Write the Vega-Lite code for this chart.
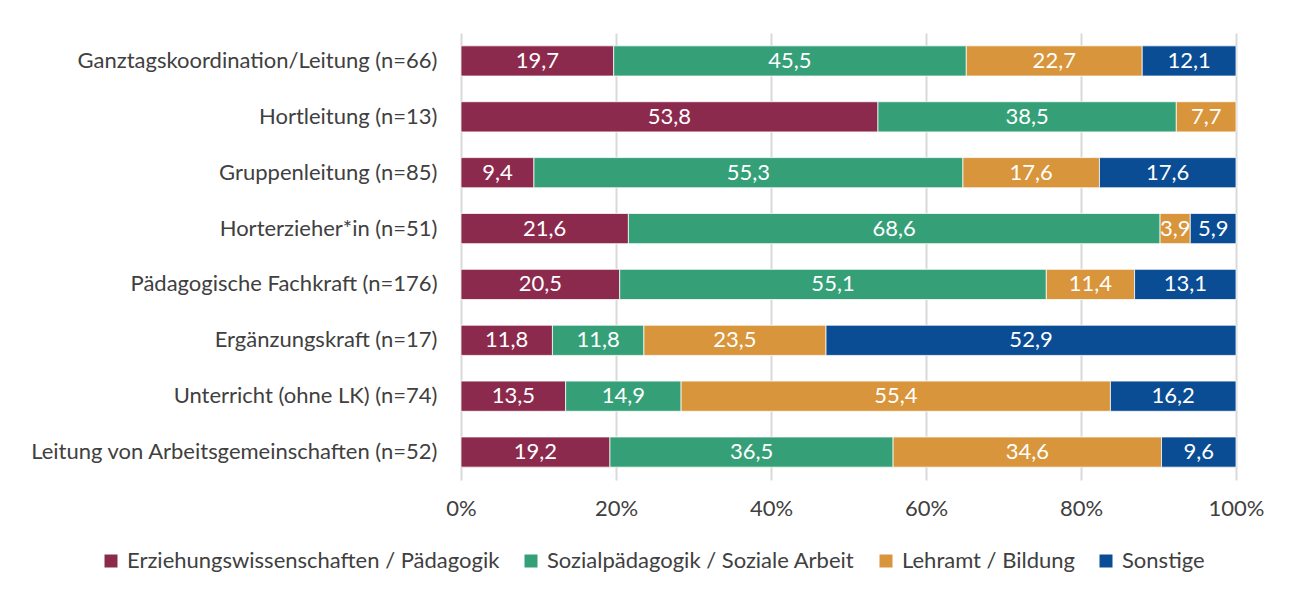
{
  "$schema": "https://vega.github.io/schema/vega-lite/v6.json",
  "width": 775,
  "height": 447,
  "autosize": {"type": "none"},
  "padding": {"left": 461, "top": 33, "right": 56, "bottom": 121},
  "background": "white",
  "config": {
    "view": {"stroke": null},
    "font": "Lato",
    "locale": {"number": {"decimal": ",", "thousands": ".", "grouping": [3], "currency": ["", " €"]}}
  },
  "data": {
    "values": [
      {"cat": "Ganztagskoordination/Leitung (n=66)", "group": "Erziehungswissenschaften / Pädagogik", "o": 1, "value": 19.7},
      {"cat": "Ganztagskoordination/Leitung (n=66)", "group": "Sozialpädagogik / Soziale Arbeit", "o": 2, "value": 45.5},
      {"cat": "Ganztagskoordination/Leitung (n=66)", "group": "Lehramt / Bildung", "o": 3, "value": 22.7},
      {"cat": "Ganztagskoordination/Leitung (n=66)", "group": "Sonstige", "o": 4, "value": 12.1},
      {"cat": "Hortleitung (n=13)", "group": "Erziehungswissenschaften / Pädagogik", "o": 1, "value": 53.8},
      {"cat": "Hortleitung (n=13)", "group": "Sozialpädagogik / Soziale Arbeit", "o": 2, "value": 38.5},
      {"cat": "Hortleitung (n=13)", "group": "Lehramt / Bildung", "o": 3, "value": 7.7},
      {"cat": "Gruppenleitung (n=85)", "group": "Erziehungswissenschaften / Pädagogik", "o": 1, "value": 9.4},
      {"cat": "Gruppenleitung (n=85)", "group": "Sozialpädagogik / Soziale Arbeit", "o": 2, "value": 55.3},
      {"cat": "Gruppenleitung (n=85)", "group": "Lehramt / Bildung", "o": 3, "value": 17.6},
      {"cat": "Gruppenleitung (n=85)", "group": "Sonstige", "o": 4, "value": 17.6},
      {"cat": "Horterzieher*in (n=51)", "group": "Erziehungswissenschaften / Pädagogik", "o": 1, "value": 21.6},
      {"cat": "Horterzieher*in (n=51)", "group": "Sozialpädagogik / Soziale Arbeit", "o": 2, "value": 68.6},
      {"cat": "Horterzieher*in (n=51)", "group": "Lehramt / Bildung", "o": 3, "value": 3.9},
      {"cat": "Horterzieher*in (n=51)", "group": "Sonstige", "o": 4, "value": 5.9},
      {"cat": "Pädagogische Fachkraft (n=176)", "group": "Erziehungswissenschaften / Pädagogik", "o": 1, "value": 20.5},
      {"cat": "Pädagogische Fachkraft (n=176)", "group": "Sozialpädagogik / Soziale Arbeit", "o": 2, "value": 55.1},
      {"cat": "Pädagogische Fachkraft (n=176)", "group": "Lehramt / Bildung", "o": 3, "value": 11.4},
      {"cat": "Pädagogische Fachkraft (n=176)", "group": "Sonstige", "o": 4, "value": 13.1},
      {"cat": "Ergänzungskraft (n=17)", "group": "Erziehungswissenschaften / Pädagogik", "o": 1, "value": 11.8},
      {"cat": "Ergänzungskraft (n=17)", "group": "Sozialpädagogik / Soziale Arbeit", "o": 2, "value": 11.8},
      {"cat": "Ergänzungskraft (n=17)", "group": "Lehramt / Bildung", "o": 3, "value": 23.5},
      {"cat": "Ergänzungskraft (n=17)", "group": "Sonstige", "o": 4, "value": 52.9},
      {"cat": "Unterricht (ohne LK) (n=74)", "group": "Erziehungswissenschaften / Pädagogik", "o": 1, "value": 13.5},
      {"cat": "Unterricht (ohne LK) (n=74)", "group": "Sozialpädagogik / Soziale Arbeit", "o": 2, "value": 14.9},
      {"cat": "Unterricht (ohne LK) (n=74)", "group": "Lehramt / Bildung", "o": 3, "value": 55.4},
      {"cat": "Unterricht (ohne LK) (n=74)", "group": "Sonstige", "o": 4, "value": 16.2},
      {"cat": "Leitung von Arbeitsgemeinschaften (n=52)", "group": "Erziehungswissenschaften / Pädagogik", "o": 1, "value": 19.2},
      {"cat": "Leitung von Arbeitsgemeinschaften (n=52)", "group": "Sozialpädagogik / Soziale Arbeit", "o": 2, "value": 36.5},
      {"cat": "Leitung von Arbeitsgemeinschaften (n=52)", "group": "Lehramt / Bildung", "o": 3, "value": 34.6},
      {"cat": "Leitung von Arbeitsgemeinschaften (n=52)", "group": "Sonstige", "o": 4, "value": 9.6}
    ]
  },
  "transform": [
    {"stack": "value", "groupby": ["cat"], "sort": [{"field": "o", "order": "ascending"}], "offset": "normalize", "as": ["x0", "x1"]},
    {"calculate": "(datum.x0 + datum.x1) / 2", "as": "xmid"}
  ],
  "encoding": {
    "y": {
      "field": "cat", "type": "nominal", "sort": null, "title": null,
      "scale": {"paddingInner": 0.46, "paddingOuter": 0.23},
      "axis": {"ticks": false, "domain": false, "labelFontSize": 22, "labelColor": "#404040", "labelPadding": 24, "labelLimit": 600}
    }
  },
  "layer": [
    {
      "mark": {"type": "bar", "stroke": "white", "strokeWidth": 0.75},
      "encoding": {
        "x": {
          "field": "x0", "type": "quantitative", "title": null,
          "scale": {"domain": [0, 1]},
          "axis": {"values": [0, 0.2, 0.4, 0.6, 0.8, 1], "format": ".0%", "grid": true, "gridColor": "#d9d9d9", "gridWidth": 2, "domain": false, "ticks": false, "labelFontSize": 22, "labelColor": "#404040", "labelPadding": 18, "labelFlush": false}
        },
        "x2": {"field": "x1"},
        "color": {
          "field": "group", "type": "nominal", "title": null,
          "sort": ["Erziehungswissenschaften / Pädagogik", "Sozialpädagogik / Soziale Arbeit", "Lehramt / Bildung", "Sonstige"],
          "scale": {"domain": ["Erziehungswissenschaften / Pädagogik", "Sozialpädagogik / Soziale Arbeit", "Lehramt / Bildung", "Sonstige"], "range": ["#8C2A4D", "#35A077", "#D8953B", "#0A4D94"]},
          "legend": {"orient": "none", "legendX": -361, "legendY": 517, "direction": "horizontal", "symbolType": "square", "symbolSize": 169, "symbolStrokeWidth": 0, "symbolOpacity": 1, "labelFontSize": 22, "labelColor": "#404040", "columnPadding": 20, "labelOffset": 5, "labelLimit": 600}
        }
      }
    },
    {
      "mark": {"type": "text", "color": "white", "fontSize": 22, "baseline": "middle", "align": "center"},
      "encoding": {
        "x": {"field": "xmid", "type": "quantitative"},
        "text": {"field": "value", "type": "quantitative", "format": ".1f"}
      }
    }
  ]
}
